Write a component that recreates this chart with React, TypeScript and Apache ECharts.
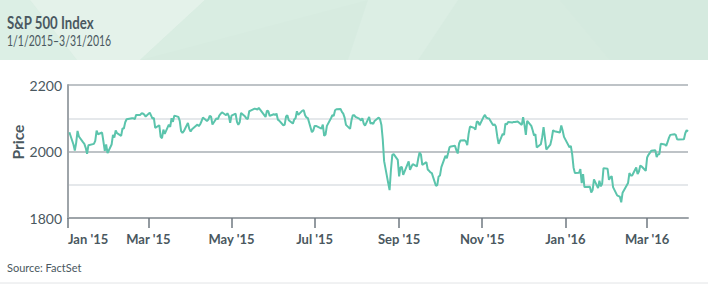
import React, { useEffect, useRef } from "react";
import * as echarts from "echarts";

const title = "S&P 500 Index";
const subtitle = "1/1/2015–3/31/2016";
const source = "Source: FactSet";
const yName = "Price";

const dates: string[] = [
  "2015-01-02","2015-01-05","2015-01-06","2015-01-07","2015-01-08","2015-01-09","2015-01-12","2015-01-13","2015-01-14","2015-01-15","2015-01-16","2015-01-20","2015-01-21","2015-01-22","2015-01-23","2015-01-26","2015-01-27","2015-01-28","2015-01-29","2015-01-30",
  "2015-02-02","2015-02-03","2015-02-04","2015-02-05","2015-02-06","2015-02-09","2015-02-10","2015-02-11","2015-02-12","2015-02-13","2015-02-17","2015-02-18","2015-02-19","2015-02-20","2015-02-23","2015-02-24","2015-02-25","2015-02-26","2015-02-27",
  "2015-03-02","2015-03-03","2015-03-04","2015-03-05","2015-03-06","2015-03-09","2015-03-10","2015-03-11","2015-03-12","2015-03-13","2015-03-16","2015-03-17","2015-03-18","2015-03-19","2015-03-20","2015-03-23","2015-03-24","2015-03-25","2015-03-26","2015-03-27","2015-03-30","2015-03-31",
  "2015-04-01","2015-04-02","2015-04-06","2015-04-07","2015-04-08","2015-04-09","2015-04-10","2015-04-13","2015-04-14","2015-04-15","2015-04-16","2015-04-17","2015-04-20","2015-04-21","2015-04-22","2015-04-23","2015-04-24","2015-04-27","2015-04-28","2015-04-29","2015-04-30",
  "2015-05-01","2015-05-04","2015-05-05","2015-05-06","2015-05-07","2015-05-08","2015-05-11","2015-05-12","2015-05-13","2015-05-14","2015-05-15","2015-05-18","2015-05-19","2015-05-20","2015-05-21","2015-05-22","2015-05-26","2015-05-27","2015-05-28","2015-05-29",
  "2015-06-01","2015-06-02","2015-06-03","2015-06-04","2015-06-05","2015-06-08","2015-06-09","2015-06-10","2015-06-11","2015-06-12","2015-06-15","2015-06-16","2015-06-17","2015-06-18","2015-06-19","2015-06-22","2015-06-23","2015-06-24","2015-06-25","2015-06-26","2015-06-29","2015-06-30",
  "2015-07-01","2015-07-02","2015-07-06","2015-07-07","2015-07-08","2015-07-09","2015-07-10","2015-07-13","2015-07-14","2015-07-15","2015-07-16","2015-07-17","2015-07-20","2015-07-21","2015-07-22","2015-07-23","2015-07-24","2015-07-27","2015-07-28","2015-07-29","2015-07-30","2015-07-31",
  "2015-08-03","2015-08-04","2015-08-05","2015-08-06","2015-08-07","2015-08-10","2015-08-11","2015-08-12","2015-08-13","2015-08-14","2015-08-17","2015-08-18","2015-08-19","2015-08-20","2015-08-21","2015-08-24","2015-08-25","2015-08-26","2015-08-27","2015-08-28","2015-08-31",
  "2015-09-01","2015-09-02","2015-09-03","2015-09-04","2015-09-08","2015-09-09","2015-09-10","2015-09-11","2015-09-14","2015-09-15","2015-09-16","2015-09-17","2015-09-18","2015-09-21","2015-09-22","2015-09-23","2015-09-24","2015-09-25","2015-09-28","2015-09-29","2015-09-30",
  "2015-10-01","2015-10-02","2015-10-05","2015-10-06","2015-10-07","2015-10-08","2015-10-09","2015-10-12","2015-10-13","2015-10-14","2015-10-15","2015-10-16","2015-10-19","2015-10-20","2015-10-21","2015-10-22","2015-10-23","2015-10-26","2015-10-27","2015-10-28","2015-10-29","2015-10-30",
  "2015-11-02","2015-11-03","2015-11-04","2015-11-05","2015-11-06","2015-11-09","2015-11-10","2015-11-11","2015-11-12","2015-11-13","2015-11-16","2015-11-17","2015-11-18","2015-11-19","2015-11-20","2015-11-23","2015-11-24","2015-11-25","2015-11-27","2015-11-30",
  "2015-12-01","2015-12-02","2015-12-03","2015-12-04","2015-12-07","2015-12-08","2015-12-09","2015-12-10","2015-12-11","2015-12-14","2015-12-15","2015-12-16","2015-12-17","2015-12-18","2015-12-21","2015-12-22","2015-12-23","2015-12-24","2015-12-28","2015-12-29","2015-12-30","2015-12-31",
  "2016-01-04","2016-01-05","2016-01-06","2016-01-07","2016-01-08","2016-01-11","2016-01-12","2016-01-13","2016-01-14","2016-01-15","2016-01-19","2016-01-20","2016-01-21","2016-01-22","2016-01-25","2016-01-26","2016-01-27","2016-01-28","2016-01-29",
  "2016-02-01","2016-02-02","2016-02-03","2016-02-04","2016-02-05","2016-02-08","2016-02-09","2016-02-10","2016-02-11","2016-02-12","2016-02-16","2016-02-17","2016-02-18","2016-02-19","2016-02-22","2016-02-23","2016-02-24","2016-02-25","2016-02-26","2016-02-29",
  "2016-03-01","2016-03-02","2016-03-03","2016-03-04","2016-03-07","2016-03-08","2016-03-09","2016-03-10","2016-03-11","2016-03-14","2016-03-15","2016-03-16","2016-03-17","2016-03-18","2016-03-21","2016-03-22","2016-03-23","2016-03-24","2016-03-28","2016-03-29","2016-03-30","2016-03-31",
];

const closes: number[] = [
  2058,2021,2003,2026,2062,2045,2028,2023,2011,1993,2019,2023,2032,2063,2052,2057,2030,2002,2021,1995,
  2021,2050,2042,2063,2055,2047,2069,2069,2088,2097,2100,2100,2097,2110,2110,2115,2114,2111,2105,
  2117,2108,2099,2101,2071,2079,2044,2040,2066,2053,2081,2074,2100,2089,2108,2104,2092,2061,2056,2061,2086,2068,
  2060,2067,2081,2076,2082,2091,2102,2092,2096,2107,2105,2081,2100,2097,2108,2113,2118,2109,2115,2107,2086,
  2108,2114,2089,2080,2088,2116,2105,2099,2098,2121,2123,2129,2128,2126,2131,2126,2104,2123,2121,2107,
  2112,2110,2114,2096,2093,2079,2080,2105,2109,2094,2084,2096,2100,2121,2110,2123,2124,2109,2102,2101,2058,2063,
  2077,2077,2069,2081,2047,2051,2077,2100,2109,2107,2124,2127,2128,2119,2114,2102,2080,2068,2093,2109,2109,2104,
  2098,2093,2100,2084,2078,2104,2084,2086,2083,2092,2102,2097,2080,2036,1971,1905,1884,1945,1990,1992,1975,
  1925,1952,1954,1930,1970,1945,1954,1962,1955,1978,1997,1991,1960,1968,1946,1942,1937,1935,1897,1899,1925,
  1928,1953,1987,1980,1996,2013,2015,2017,2004,1994,2024,2033,2034,2031,2019,2053,2075,2071,2066,2090,2089,2079,
  2104,2110,2102,2100,2099,2079,2082,2075,2046,2023,2053,2050,2084,2081,2089,2087,2089,2089,2090,2080,
  2103,2080,2050,2092,2077,2064,2048,2052,2012,2022,2043,2073,2042,2006,2021,2039,2064,2061,2057,2078,2063,2044,
  2013,2017,1992,1952,1935,1936,1947,1905,1932,1893,1894,1877,1884,1916,1890,1912,1895,1903,1950,
  1948,1915,1922,1926,1893,1868,1866,1864,1847,1876,1905,1935,1928,1928,1952,1932,1940,1958,1955,1942,
  1982,1990,1996,2002,2004,1983,1992,1992,2023,2021,2017,2028,2041,2050,2052,2050,2037,2036,2037,2055,2064,2060,
];

const monthTicks: string[] = ["2015-01-01","2015-03-01","2015-05-01","2015-07-01","2015-09-01","2015-11-01","2016-01-01","2016-03-01"];
const axisStart = "2015-01-01";
const axisEnd = "2016-03-31";
const yMin = 1800;
const yMax = 2200;
const yStep = 100;
const yLabels: number[] = [1800, 2000, 2200];
const monthNames = ["Jan","Feb","Mar","Apr","May","Jun","Jul","Aug","Sep","Oct","Nov","Dec"];

function ts(s: string): number {
  const [y, m, d] = s.split("-").map(Number);
  return new Date(y, m - 1, d).getTime();
}

const TEXT = "#4a5860";
const FONT = "Lato, 'Open Sans', sans-serif";

export default function App() {
  const ref = useRef<HTMLDivElement>(null);
  useEffect(() => {
    if (!ref.current) return;
    const chart = echarts.init(ref.current, null, { renderer: "svg" });
    const tickVals = monthTicks.map(ts);
    chart.setOption({
      animation: false,
      backgroundColor: "#ffffff",
      textStyle: { fontFamily: FONT },
      graphic: [
        { type: "rect", left: 0, top: 0, shape: { x: 0, y: 0, width: 708, height: 60 }, style: { fill: "#d7ebe0" }, silent: true },
        { type: "polygon", shape: { points: [[0, 0], [30, 0], [77, 60], [0, 60]] }, style: { fill: "#dcefe5" }, silent: true },
        { type: "polygon", shape: { points: [[30, 0], [205, 0], [140, 60], [77, 60]] }, style: { fill: "#e4f2ea" }, silent: true },
        { type: "polygon", shape: { points: [[205, 0], [368, 0], [140, 60]] }, style: { fill: "#d9ede2" }, silent: true },
        { type: "polygon", shape: { points: [[368, 0], [458, 0], [418, 60], [348, 60]] }, style: { fill: "#dceee4" }, silent: true },
        { type: "polygon", shape: { points: [[560, 0], [708, 0], [708, 60], [610, 60]] }, style: { fill: "#d5eadf" }, silent: true },
        { type: "text", x: 7, y: 22.5, scaleX: 0.8, style: { text: title, fill: TEXT, font: `bold 16.5px ${FONT}`, verticalAlign: "middle" }, silent: true },
        { type: "text", x: 7, y: 40.5, scaleX: 0.7, style: { text: subtitle, fill: TEXT, font: `15px ${FONT}`, verticalAlign: "middle" }, silent: true },
        { type: "text", x: 17.5, y: 142, rotation: Math.PI / 2, style: { text: yName, fill: TEXT, font: `bold 15.5px ${FONT}`, align: "center", verticalAlign: "middle" }, silent: true },
        { type: "text", x: 7, y: 267, style: { text: source, fill: TEXT, font: `11px ${FONT}`, verticalAlign: "middle" }, silent: true },
        { type: "line", shape: { x1: 0, y1: 283, x2: 708, y2: 283 }, style: { stroke: "#e2e4e6", lineWidth: 1 }, silent: true },
      ],
      grid: { left: 68, right: 20, top: 85, bottom: 66, containLabel: false },
      xAxis: {
        type: "value",
        min: ts(axisStart),
        max: ts(axisEnd),
        axisLine: { show: true, onZero: false, lineStyle: { color: "#9ea4a9", width: 2 } },
        axisTick: { show: true, customValues: tickVals, length: 10, lineStyle: { color: "#6f7880", width: 1.5 } },
        splitLine: { show: false },
        axisLabel: {
          customValues: tickVals,
          margin: 14,
          color: TEXT,
          fontFamily: FONT,
          fontSize: 13,
          fontWeight: "bold",
          alignMinLabel: "left",
          formatter: (v: number) => {
            const d = new Date(v);
            return `${monthNames[d.getMonth()]} '${String(d.getFullYear()).slice(2)}`;
          },
        },
      },
      yAxis: {
        type: "value",
        min: yMin,
        max: yMax,
        interval: yStep,
        axisLine: { show: true, lineStyle: { color: "#9ea4a9", width: 2 } },
        axisTick: { show: false },
        splitLine: { show: true, lineStyle: { color: ["#a9afb4", "#dde0e4"], width: 1.5 } },
        axisLabel: {
          customValues: yLabels,
          margin: 6,
          color: TEXT,
          fontFamily: FONT,
          fontSize: 14,
          formatter: (v: number) => String(v),
        },
      },
      series: [
        {
          type: "line",
          data: dates.map((d, i) => [ts(d), closes[i]]),
          showSymbol: false,
          symbol: "none",
          lineStyle: { color: "#5bc4ac", width: 2 },
          itemStyle: { color: "#5bc4ac" },
          z: 5,
        },
      ],
    });
    return () => chart.dispose();
  }, []);
  return <div ref={ref} style={{ position: "fixed", left: 0, top: 0, width: 708, height: 284 }} />;
}
